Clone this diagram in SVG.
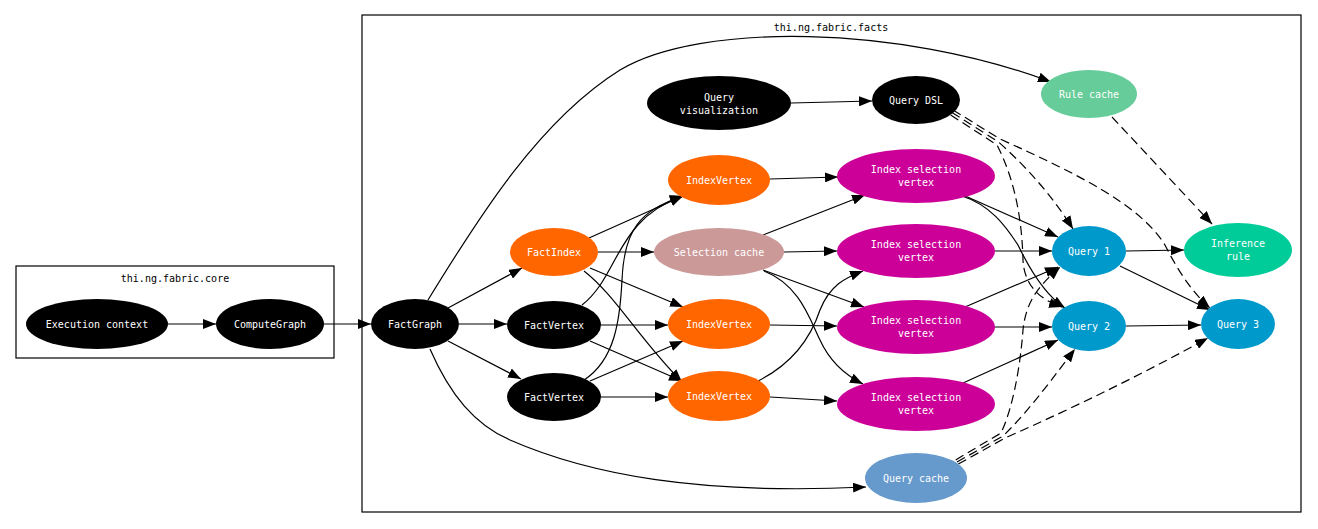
<svg xmlns="http://www.w3.org/2000/svg" width="1318" height="529" viewBox="0 0 1318 529">
<style>
.cl{fill:none;stroke:#000;stroke-width:1.2}
.cllbl{font-family:"DejaVu Sans Mono","Liberation Mono",monospace;font-size:10px;fill:#000;text-anchor:middle}
.lbl{font-family:"DejaVu Sans Mono","Liberation Mono",monospace;font-size:10px;fill:#fff;text-anchor:middle}
.e{fill:none;stroke:#000;stroke-width:1.2;marker-end:url(#ah)}
.d{fill:none;stroke:#000;stroke-width:1.2;stroke-dasharray:9,5}
.da{marker-end:url(#ah)}
.blk{fill:#000}
.org{fill:#ff6600}
.sel{fill:#cc9999}
.isv{fill:#cc0099}
.qry{fill:#0099cc}
</style>
<defs>
<marker id="ah" viewBox="0 0 13 10" refX="13" refY="5" markerWidth="13" markerHeight="10" markerUnits="userSpaceOnUse" orient="auto">
<path d="M0,0 L13,5 L0,10 z" fill="#000" stroke="none"/>
</marker>
</defs>
<rect width="1318" height="529" fill="#fff"/>
<g id="cluster-core">
<rect class="cl" x="16" y="266" width="318" height="92"/>
<text class="cllbl" x="175" y="282">thi.ng.fabric.core</text>
</g>
<g id="cluster-facts">
<rect class="cl" x="362" y="15" width="939" height="497"/>
<text class="cllbl" x="831" y="31">thi.ng.fabric.facts</text>
</g>
<g id="connectors">
<path class="e" d="M168,324 L216,324"/>
<path class="e" d="M324,324 L371,324"/>
<path class="e" d="M448,308 L522,268"/>
<path class="e" d="M459,324 L507,324"/>
<path class="e" d="M448,341 L521,379"/>
<path class="e" d="M428,300 C480,215 540,120 620,70 C700,22 900,25 1051,82"/>
<path class="e" d="M430,349 C450,395 475,425 510,440 C590,475 700,495 866,487"/>
<path class="e" d="M589,238 L683,196"/>
<path class="e" d="M598,252 L654,252"/>
<path class="e" d="M590,268 L683,307"/>
<path class="e" d="M584,271 C615,295 640,340 682,382"/>
<path class="e" d="M582,305 C620,275 615,220 683,196"/>
<path class="e" d="M584,380 C615,360 620,320 622,280 C624,230 640,210 683,196"/>
<path class="e" d="M601,325 L668,325"/>
<path class="e" d="M590,341 L682,381"/>
<path class="e" d="M590,381 L683,341"/>
<path class="e" d="M601,397 L668,397"/>
<path class="e" d="M770,179 L838,177"/>
<path class="e" d="M763,235 L865,195"/>
<path class="e" d="M784,252 L837,251"/>
<path class="e" d="M763,270 L864,307"/>
<path class="e" d="M764,271 C800,285 810,320 820,340 C830,362 845,375 863,384"/>
<path class="e" d="M770,325 L837,326"/>
<path class="e" d="M758,381 C790,365 810,340 820,310 C830,285 845,278 863,271"/>
<path class="e" d="M770,397 L837,401"/>
<path class="e" d="M791,103 L872,101"/>
<path class="e" d="M963,195 L1058,237"/>
<path class="e" d="M962,196 C990,205 1005,225 1018,245 C1030,270 1045,295 1065,308"/>
<path class="e" d="M995,251 L1052,251"/>
<path class="e" d="M965,307 L1058,267"/>
<path class="e" d="M995,327 L1052,327"/>
<path class="e" d="M963,383 L1058,340"/>
<path class="e" d="M1126,251 L1184,250"/>
<path class="e" d="M1120,266 L1210,310"/>
<path class="e" d="M1126,326 L1201,325"/>
<path class="d da" d="M1112,117 L1212,224"/>
<path class="d da" d="M953,110 L1000,139 C1080,175 1140,205 1165,245 C1180,275 1195,295 1210,308"/>
<path class="d da" d="M952,112.5 L998.5,142 C1030,170 1055,200 1073,229"/>
<path class="d da" d="M950.7,115 L997,145 C1015,180 1022,220 1023,260 C1024,285 1040,300 1062,307"/>
<path class="d da" d="M955.7,459.9 L1001,433 C1012,410 1020,370 1023,330 C1026,300 1040,285 1060,267"/>
<path class="d da" d="M957,462 L1003,436 C1030,410 1055,375 1075,349"/>
<path class="d da" d="M958.3,464.1 L1005,438 C1080,405 1150,370 1208,338"/>
</g>
<g id="n-exec"><ellipse class="blk" cx="97" cy="324" rx="71" ry="25"/><text class="lbl" x="97" y="327.5">Execution context</text></g>
<g id="n-computegraph"><ellipse class="blk" cx="270" cy="324" rx="54" ry="25"/><text class="lbl" x="270" y="327.5">ComputeGraph</text></g>
<g id="n-factgraph"><ellipse class="blk" cx="415" cy="324" rx="44" ry="25"/><text class="lbl" x="415" y="327.5">FactGraph</text></g>
<g id="n-factindex"><ellipse class="org" cx="554" cy="252" rx="44" ry="24"/><text class="lbl" x="554" y="255.5">FactIndex</text></g>
<g id="n-factvertex1"><ellipse class="blk" cx="554" cy="325" rx="47" ry="24"/><text class="lbl" x="554" y="328.5">FactVertex</text></g>
<g id="n-factvertex2"><ellipse class="blk" cx="554" cy="397" rx="47" ry="24"/><text class="lbl" x="554" y="400.5">FactVertex</text></g>
<g id="n-indexvertex1"><ellipse class="org" cx="719" cy="180" rx="51" ry="25"/><text class="lbl" x="719" y="183.5">IndexVertex</text></g>
<g id="n-selcache"><ellipse class="sel" cx="719" cy="252" rx="65" ry="24"/><text class="lbl" x="719" y="255.5">Selection cache</text></g>
<g id="n-indexvertex2"><ellipse class="org" cx="719" cy="324" rx="51" ry="25"/><text class="lbl" x="719" y="327.5">IndexVertex</text></g>
<g id="n-indexvertex3"><ellipse class="org" cx="719" cy="396" rx="51" ry="25"/><text class="lbl" x="719" y="399.5">IndexVertex</text></g>
<g id="n-queryvis"><ellipse class="blk" cx="719" cy="103" rx="72" ry="27"/><text class="lbl" x="719" y="100.5">Query</text><text class="lbl" x="719" y="113.5">visualization</text></g>
<g id="n-querydsl"><ellipse class="blk" cx="916" cy="100" rx="44" ry="24"/><text class="lbl" x="916" y="103.5">Query DSL</text></g>
<g id="n-isv1"><ellipse class="isv" cx="916" cy="176" rx="79" ry="27"/><text class="lbl" x="916" y="172.5">Index selection</text><text class="lbl" x="916" y="185.5">vertex</text></g>
<g id="n-isv2"><ellipse class="isv" cx="916" cy="251" rx="79" ry="27"/><text class="lbl" x="916" y="247.5">Index selection</text><text class="lbl" x="916" y="260.5">vertex</text></g>
<g id="n-isv3"><ellipse class="isv" cx="916" cy="327" rx="79" ry="27"/><text class="lbl" x="916" y="323.5">Index selection</text><text class="lbl" x="916" y="336.5">vertex</text></g>
<g id="n-isv4"><ellipse class="isv" cx="916" cy="404" rx="79" ry="27"/><text class="lbl" x="916" y="400.5">Index selection</text><text class="lbl" x="916" y="413.5">vertex</text></g>
<g id="n-rulecache"><ellipse fill="#66cc99" cx="1089" cy="94" rx="48" ry="24"/><text class="lbl" x="1089" y="97.5">Rule cache</text></g>
<g id="n-query1"><ellipse class="qry" cx="1089" cy="251" rx="37" ry="25"/><text class="lbl" x="1089" y="254.5">Query 1</text></g>
<g id="n-query2"><ellipse class="qry" cx="1089" cy="326" rx="37" ry="25"/><text class="lbl" x="1089" y="329.5">Query 2</text></g>
<g id="n-inference"><ellipse fill="#00cc99" cx="1238" cy="250" rx="54" ry="27"/><text class="lbl" x="1238" y="246.5">Inference</text><text class="lbl" x="1238" y="259.5">rule</text></g>
<g id="n-query3"><ellipse class="qry" cx="1238" cy="324" rx="37" ry="25"/><text class="lbl" x="1238" y="327.5">Query 3</text></g>
<g id="n-querycache"><ellipse fill="#6699cc" cx="916" cy="478" rx="51" ry="25"/><text class="lbl" x="916" y="481.5">Query cache</text></g>
</svg>
